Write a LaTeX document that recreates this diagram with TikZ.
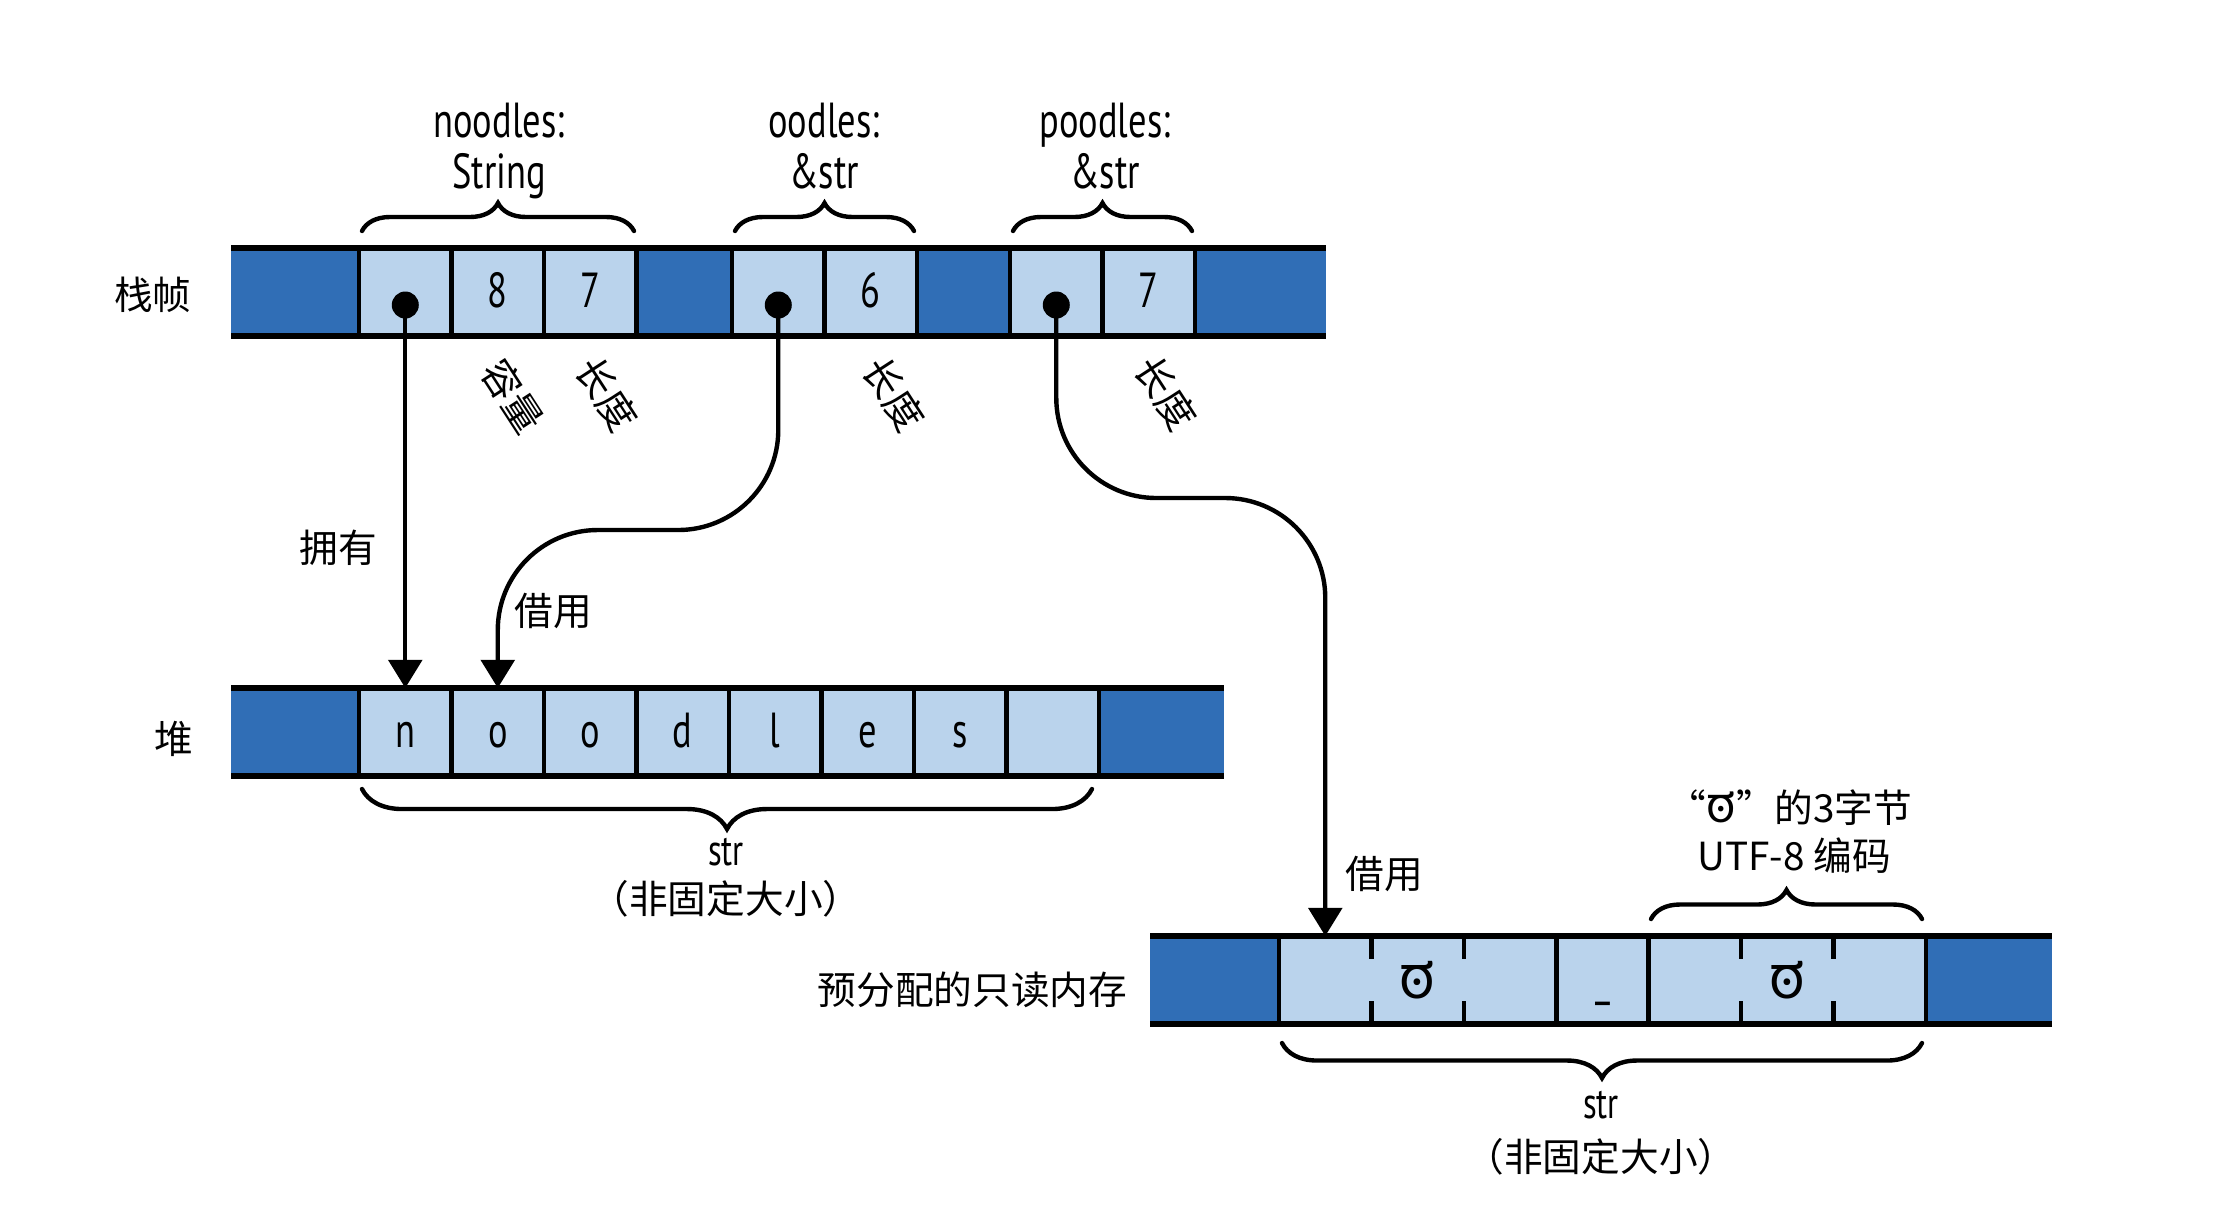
\documentclass[tikz,border=0pt]{standalone}
\usepackage{fontspec}
\setmainfont{Noto Sans CJK SC}
\newfontfamily\condf[FakeStretch=0.74]{PT Sans}
\newfontfamily\kanf[Script=Kannada]{Hind Mysuru}
\newfontfamily\kanlight[Script=Kannada]{Hind Mysuru Light}
\usetikzlibrary{arrows.meta,decorations.pathreplacing}
\definecolor{dkblue}{RGB}{48,110,182}
\definecolor{ltblue}{RGB}{186,211,236}
\tikzset{
  cellbox/.style={fill=ltblue, minimum width=0.925cm, minimum height=0.88cm, inner sep=0pt, outer sep=0pt, anchor=north west, text height=9pt, text depth=0pt, font=\condf\fontsize{14}{16}\selectfont},
  edgeline/.style={line width=1.8pt},
  divline/.style={line width=1.3pt},
  ptrdot/.style={circle, fill=black, minimum size=0.27cm, inner sep=0pt},
  ptrarrow/.style={line width=1.25pt, -{Triangle[length=8pt,width=9.5pt]}},
  bracedeco/.style={line width=1.25pt, line cap=round, decorate, decoration={brace, amplitude=#1}},
  cjklab/.style={font=\fontsize{11}{13}\selectfont, inner sep=0pt},
  condlab/.style={font=\condf\fontsize{14}{14.3}\selectfont, align=center, inner sep=0pt},
  strlab/.style={font=\condf\fontsize{12.5}{14}\selectfont, inner sep=0pt},
  rotlab/.style={cjklab, rotate=-57},
  kanlab/.style={font=\kanf\fontsize{17}{18}\selectfont, inner sep=0pt},
}
\begin{document}
\begin{tikzpicture}[x=0.01cm,y=-0.01cm]
\useasboundingbox[fill=white] (0,0) rectangle (2224,1220);

% ---------- stack frame ----------
\fill[dkblue] (231,248) rectangle (1326,336);
\node[cellbox] (s1) at (359,248) {};
\node[cellbox] (s2) at (451.5,248) {8};
\node[cellbox] (s3) at (544,248) {7};
\node[cellbox] (s4) at (732,248) {};
\node[cellbox] (s5) at (824.5,248) {6};
\node[cellbox] (s6) at (1010,248) {};
\node[cellbox] (s7) at (1102.5,248) {7};
\foreach \x in {359,451.5,544,636.5,732,824.5,917,1010,1102.5,1195}
  \draw[divline] (\x,248) -- (\x,336);
\draw[edgeline] (231,248) -- (1326,248) (231,336) -- (1326,336);

% ---------- heap ----------
\fill[dkblue] (231,688) rectangle (1224,776);
\node[cellbox] (h1) at (359,688) {n};
\node[cellbox] (h2) at (451.5,688) {o};
\node[cellbox] (h3) at (544,688) {o};
\node[cellbox] (h4) at (636.5,688) {d};
\node[cellbox] (h5) at (729,688) {l};
\node[cellbox] (h6) at (821.5,688) {e};
\node[cellbox] (h7) at (914,688) {s};
\node[cellbox] (h8) at (1006.5,688) {};
\foreach \x in {359,451.5,544,636.5,729,821.5,914,1006.5,1099}
  \draw[divline] (\x,688) -- (\x,776);
\draw[edgeline] (231,688) -- (1224,688) (231,776) -- (1224,776);

% ---------- read-only memory ----------
\fill[dkblue] (1150,936) rectangle (2052,1024);
\node[cellbox] (r1) at (1279,936) {};
\node[cellbox] (r2) at (1371.4,936) {};
\node[cellbox] (r3) at (1463.8,936) {};
\node[cellbox] (r4) at (1556.2,936) {\_};
\node[cellbox] (r5) at (1648.6,936) {};
\node[cellbox] (r6) at (1741,936) {};
\node[cellbox] (r7) at (1833.4,936) {};
\node[kanlab] (k1) at (r2.center) {ಠ};
\node[kanlab] (k2) at (r6.center) {ಠ};
\foreach \x in {1279,1556.2,1648.6,1925.8}
  \draw[divline] (\x,936) -- (\x,1024);
\foreach \x in {1371.4,1463.8,1741,1833.4}
  \draw[divline] (\x,936) -- (\x,959) (\x,1001) -- (\x,1024);
\draw[edgeline] (1150,936) -- (2052,936) (1150,1024) -- (2052,1024);

% ---------- row labels ----------
\node[cjklab] (lstack) at (153,295) {栈帧};
\node[cjklab] (lheap) at (174,739) {堆};
\node[cjklab, anchor=east] (lrom) at (1128,990) {预分配的只读内存};

% ---------- top braces ----------
\draw[bracedeco=0.28cm] (362,231) -- (634,231);
\draw[bracedeco=0.28cm] (735,231) -- (914,231);
\draw[bracedeco=0.28cm] (1013,231) -- (1192,231);
\node[condlab] (t1) at (499,151) {noodles:\\String};
\node[condlab] (t2) at (824,146) {oodles:\\\&str};
\node[condlab] (t3) at (1105,146) {poodles:\\\&str};

% ---------- rotated labels ----------
\node[rotlab] (cap1) at (513,396) {容量};
\node[rotlab] (len1) at (607,394) {长度};
\node[rotlab] (len2) at (894,394) {长度};
\node[rotlab] (len3) at (1166,393) {长度};

% ---------- pointers ----------
\node[ptrdot] (d1) at (s1.center |- 0,305) {};
\node[ptrdot] (d2) at (s4.center |- 0,305) {};
\node[ptrdot] (d3) at (s6.center |- 0,305) {};
\coordinate (b2) at (h2.north |- 0,530);
\coordinate (b3) at (r1.north |- 0,498);
\draw[ptrarrow] (d1.center) -- (h1.north);
\draw[ptrarrow, rounded corners=1cm] (d2.center) |- (b2) -- (h2.north);
\draw[ptrarrow, rounded corners=1cm] (d3.center) |- (b3) -- (r1.north);
\node[cjklab] (own) at (338,548) {拥有};
\node[cjklab] (bor1) at (553,611) {借用};
\node[cjklab] (bor2) at (1384,874) {借用};

% ---------- bottom braces ----------
\draw[bracedeco=0.4cm] (1092,789) -- (362,789);
\node[strlab] (str1) at (726,852) {str};
\node[cjklab] (nf1) at (726,899) {（非固定大小）};
\draw[bracedeco=0.35cm] (1922,1043) -- (1282,1043);
\node[strlab] (str2) at (1601,1105) {str};
\node[cjklab] (nf2) at (1601,1157) {（非固定大小）};
\draw[bracedeco=0.29cm] (1651,919) -- (1922,919);
\node[cjklab] (utf1) at (1790,808) {“\smash{\kanf\fontsize{14}{14}\selectfont ಠ}”的3字节};
\node[cjklab] (utf2) at (1794,856) {UTF-8 编码};
\end{tikzpicture}
\end{document}
